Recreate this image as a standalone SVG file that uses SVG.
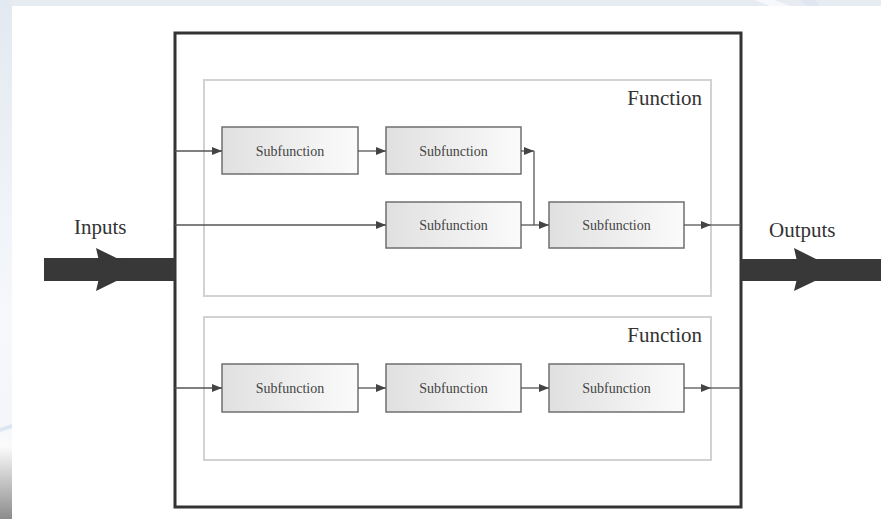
<svg xmlns="http://www.w3.org/2000/svg" width="881" height="519" viewBox="0 0 881 519">
  <style>
    .outer { fill: #ffffff; stroke: #333333; stroke-width: 3; }
    .func { fill: #ffffff; stroke: #d2d2d2; stroke-width: 2; }
    .sub { fill: url(#subGrad); stroke: #6f6f6f; stroke-width: 1.5; }
    .subtxt { font-family: "Liberation Serif", "Times New Roman", serif; font-size: 14px; fill: #444444; text-anchor: middle; }
    .functxt { font-family: "Liberation Serif", "Times New Roman", serif; font-size: 21px; fill: #333333; text-anchor: end; }
    .iotxt { font-family: "Liberation Serif", "Times New Roman", serif; font-size: 21px; fill: #333333; }
    .conn { fill: none; stroke: #555555; stroke-width: 1.3; }
    .big { fill: #383838; }
  </style>
  <defs>
    <linearGradient id="subGrad" x1="0" y1="0" x2="1" y2="0">
      <stop offset="0" stop-color="#e0e0e0"/>
      <stop offset="1" stop-color="#fbfbfb"/>
    </linearGradient>
    <linearGradient id="leftStrip" x1="0" y1="0" x2="0" y2="1">
      <stop offset="0" stop-color="#e3e9f1"/>
      <stop offset="0.6" stop-color="#f6f8fb"/>
      <stop offset="0.82" stop-color="#f4f6f9"/>
      <stop offset="0.86" stop-color="#fbfbfb"/>
      <stop offset="1" stop-color="#8c8c8c"/>
    </linearGradient>
    <marker id="arr" markerUnits="userSpaceOnUse" markerWidth="10" markerHeight="8" refX="10" refY="4" orient="auto">
      <path d="M0,0 L10,4 L0,8 z" fill="#444444"/>
    </marker>
  </defs>

  <!-- background -->
  <rect x="0" y="0" width="881" height="519" fill="#ffffff"/>
  <rect x="0" y="0" width="881" height="6" fill="#e7ecf3"/>
  <polygon points="755,0 775,0 790,6 770,6" fill="#f6f8fb"/>
  <polygon points="800,0 815,0 820,6 806,6" fill="#dfe6ef"/>
  <rect x="0" y="0" width="12" height="519" fill="url(#leftStrip)"/>
  <polygon points="0,428 12,424 12,428 0,432" fill="#dde5f0"/>

  <!-- outer function block -->
  <g id="system">
    <rect class="outer" x="175" y="33" width="566" height="474"/>
  </g>

  <g id="function1">
    <rect class="func" x="204" y="80" width="507" height="216"/>
    <text class="functxt" x="702" y="105">Function</text>
  </g>
  <g id="function2">
    <rect class="func" x="204" y="317" width="507" height="143"/>
    <text class="functxt" x="702" y="342">Function</text>
  </g>

  <g id="sub1">
    <rect class="sub" x="222" y="127" width="136" height="47"/>
    <text class="subtxt" x="290" y="156">Subfunction</text>
  </g>
  <g id="sub2">
    <rect class="sub" x="386" y="127" width="135" height="47"/>
    <text class="subtxt" x="453.5" y="156">Subfunction</text>
  </g>
  <g id="sub3">
    <rect class="sub" x="386" y="202" width="135" height="46"/>
    <text class="subtxt" x="453.5" y="230">Subfunction</text>
  </g>
  <g id="sub4">
    <rect class="sub" x="549" y="202" width="135" height="46"/>
    <text class="subtxt" x="616.5" y="230">Subfunction</text>
  </g>
  <g id="sub5">
    <rect class="sub" x="222" y="364" width="136" height="48"/>
    <text class="subtxt" x="290" y="393">Subfunction</text>
  </g>
  <g id="sub6">
    <rect class="sub" x="386" y="364" width="135" height="48"/>
    <text class="subtxt" x="453.5" y="393">Subfunction</text>
  </g>
  <g id="sub7">
    <rect class="sub" x="549" y="364" width="135" height="48"/>
    <text class="subtxt" x="616.5" y="393">Subfunction</text>
  </g>

  <g id="inputs">
    <text class="iotxt" x="74" y="234">Inputs</text>
    <rect class="big" x="44" y="258" width="131" height="23"/>
    <polygon class="big" points="96,248 140,269.5 96,291 101,269.5"/>
  </g>
  <g id="outputs">
    <text class="iotxt" x="769" y="237">Outputs</text>
    <rect class="big" x="741" y="259" width="140" height="22"/>
    <polygon class="big" points="794,248 838,270 794,291 799,270"/>
  </g>

  <g id="connectors">
    <path class="conn" d="M175,151 H222" marker-end="url(#arr)"/>
    <path class="conn" d="M358,151 H386" marker-end="url(#arr)"/>
    <path class="conn" d="M521,151 H534" marker-end="url(#arr)"/>
    <path class="conn" d="M534,151 V225"/>
    <path class="conn" d="M521,225 H549" marker-end="url(#arr)"/>
    <path class="conn" d="M175,225 H386" marker-end="url(#arr)"/>
    <path class="conn" d="M684,225 H711" marker-end="url(#arr)"/>
    <path class="conn" d="M711,225 H741"/>
    <path class="conn" d="M175,388 H222" marker-end="url(#arr)"/>
    <path class="conn" d="M358,388 H386" marker-end="url(#arr)"/>
    <path class="conn" d="M521,388 H549" marker-end="url(#arr)"/>
    <path class="conn" d="M684,388 H711" marker-end="url(#arr)"/>
    <path class="conn" d="M711,388 H741"/>
  </g>
</svg>
